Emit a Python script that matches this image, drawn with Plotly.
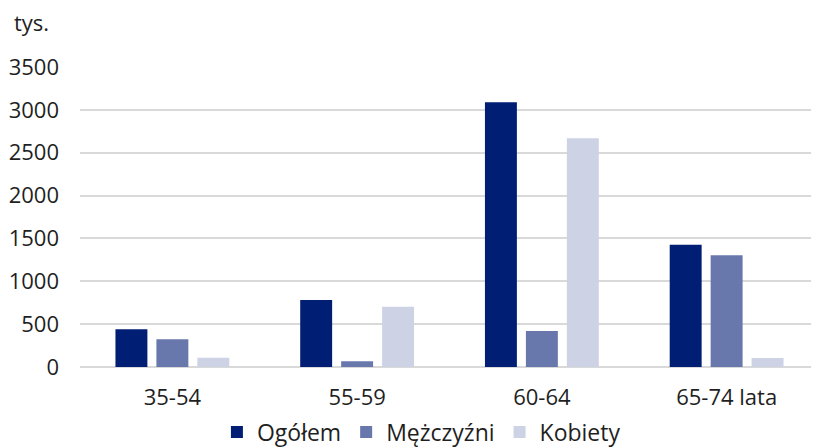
import plotly.graph_objects as go

categories = ["35-54", "55-59", "60-64", "65-74 lata"]
ogolem = [440, 782, 3090, 1426]
mezczyzni = [323, 66, 421, 1305]
kobiety = [108, 703, 2669, 105]
y_ticks = [0, 500, 1000, 1500, 2000, 2500, 3000, 3500]

font_family = "Open Sans, Noto Sans, sans-serif"
text_color = "#1F1F1F"

# the page places the figure 8px from its top-left corner
OFF = 8
W, H = 819, 448
plot_left, plot_right, plot_top, plot_bottom = 80 - OFF, 819 - OFF, 67 - OFF, 367 - OFF

fig = go.Figure()
series = [
    ("Ogółem", ogolem, "#001E73"),
    ("Mężczyźni", mezczyzni, "#6878AC"),
    ("Kobiety", kobiety, "#CDD2E5"),
]
for name, vals, col in series:
    fig.add_trace(go.Bar(x=categories, y=vals, name=name,
                         marker=dict(color=col, line=dict(width=0))))

pw = plot_right - plot_left
ph = plot_bottom - plot_top
fig.update_layout(
    width=W, height=H,
    margin=dict(l=plot_left, r=W - plot_right, t=plot_top, b=H - plot_bottom),
    paper_bgcolor="white", plot_bgcolor="white",
    barmode="group", bargap=0.335, bargroupgap=0.22,
    font=dict(family=font_family, size=22, color=text_color),
    showlegend=True,
    legend=dict(orientation="h", xref="paper", x=0.462, xanchor="center",
                yref="container", y=(H - (432 - OFF)) / H, yanchor="middle",
                font=dict(size=23, color=text_color), itemsizing="constant",
                traceorder="normal", itemwidth=30, tracegroupgap=0),
    annotations=[dict(text="tys.", xref="paper", yref="paper",
                      x=(12 - 80) / pw, y=(367 - 22) / ph,
                      xanchor="left", yanchor="middle", showarrow=False,
                      font=dict(size=22, color=text_color))],
)
fig.update_yaxes(range=[0, 3500], tickvals=y_ticks, showgrid=True,
                 gridcolor="#D9D9D9", gridwidth=2, zeroline=True,
                 zerolinecolor="#D9D9D9", zerolinewidth=2,
                 ticklabelstandoff=20, tickfont=dict(size=22), fixedrange=True,
                 automargin=False)
fig.update_xaxes(showline=False, tickfont=dict(size=22), ticklabelstandoff=15,
                 automargin=False)

fig.write_html("out.html")
